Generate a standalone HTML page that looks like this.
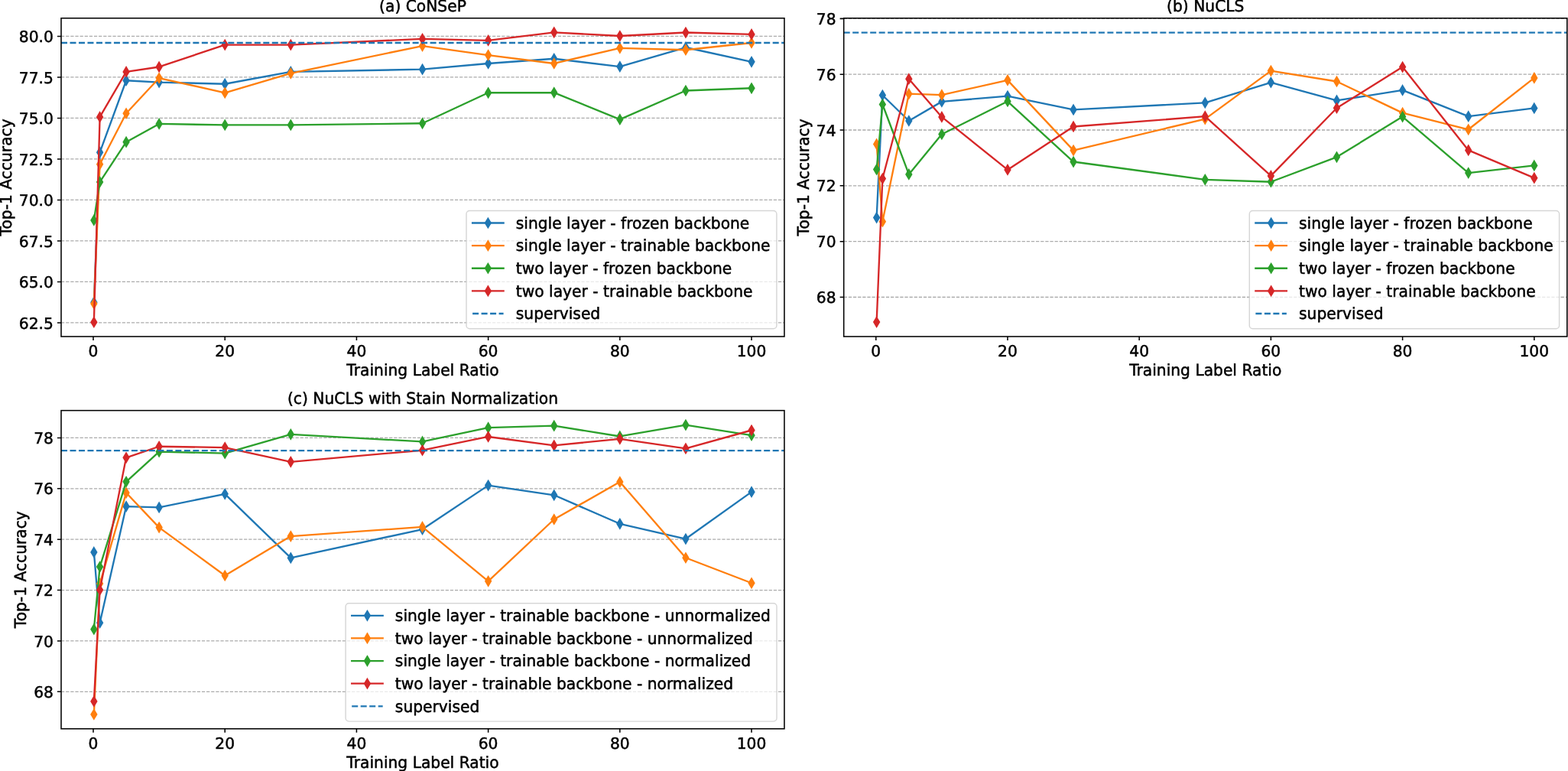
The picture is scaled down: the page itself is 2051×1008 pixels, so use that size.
<!DOCTYPE html>
<html><head><meta charset="utf-8"><title>Top-1 Accuracy vs Training Label Ratio</title>
<style>html,body{margin:0;padding:0;background:#fff;width:2051px;height:1008px;overflow:hidden}svg{display:block}</style>
</head><body>
<svg width="2051" height="1008" viewBox="0 0 2051 1008">
<rect width="2051" height="1008" fill="#ffffff"/>
<style>text{stroke:#000;stroke-width:0.5px;text-rendering:geometricPrecision}</style>
<g font-family="'DejaVu Sans', 'Liberation Sans', sans-serif" font-size="20.24px" fill="#000">
<clipPath id="clipa"><rect x="80" y="23.75" width="945.95" height="416.25"/></clipPath>
<path d="M80 421.91H1025.95 M80 368.41H1025.95 M80 314.92H1025.95 M80 261.43H1025.95 M80 207.94H1025.95 M80 154.44H1025.95 M80 100.95H1025.95 M80 47.46H1025.95" stroke="#ababab" stroke-width="1.3" stroke-dasharray="4.28 1.85" fill="none" clip-path="url(#clipa)"/>
<g clip-path="url(#clipa)"><path d="M122.86 395.16 130.61 199.16 165.05 105.23 208.1 107.59 294.21 109.73 380.31 93.89 552.51 90.68 638.62 82.98 724.72 76.77 810.82 87.04 896.93 62.01 983.03 80.84" stroke="#1f77b4" stroke-width="2.34" fill="none" stroke-linejoin="round" stroke-linecap="butt"/>
<path d="M122.86 388.72L126.73 395.16L122.86 401.6L119 395.16Z" fill="#1f77b4" stroke="#1f77b4" stroke-width="1.45" stroke-linejoin="miter" stroke-miterlimit="10"/>
<path d="M130.61 192.72L134.47 199.16L130.61 205.61L126.75 199.16Z" fill="#1f77b4" stroke="#1f77b4" stroke-width="1.45" stroke-linejoin="miter" stroke-miterlimit="10"/>
<path d="M165.05 98.79L168.92 105.23L165.05 111.67L161.19 105.23Z" fill="#1f77b4" stroke="#1f77b4" stroke-width="1.45" stroke-linejoin="miter" stroke-miterlimit="10"/>
<path d="M208.1 101.14L211.97 107.59L208.1 114.03L204.24 107.59Z" fill="#1f77b4" stroke="#1f77b4" stroke-width="1.45" stroke-linejoin="miter" stroke-miterlimit="10"/>
<path d="M294.21 103.28L298.07 109.73L294.21 116.17L290.34 109.73Z" fill="#1f77b4" stroke="#1f77b4" stroke-width="1.45" stroke-linejoin="miter" stroke-miterlimit="10"/>
<path d="M380.31 87.45L384.17 93.89L380.31 100.33L376.44 93.89Z" fill="#1f77b4" stroke="#1f77b4" stroke-width="1.45" stroke-linejoin="miter" stroke-miterlimit="10"/>
<path d="M552.51 84.24L556.38 90.68L552.51 97.12L548.65 90.68Z" fill="#1f77b4" stroke="#1f77b4" stroke-width="1.45" stroke-linejoin="miter" stroke-miterlimit="10"/>
<path d="M638.62 76.54L642.48 82.98L638.62 89.42L634.75 82.98Z" fill="#1f77b4" stroke="#1f77b4" stroke-width="1.45" stroke-linejoin="miter" stroke-miterlimit="10"/>
<path d="M724.72 70.33L728.59 76.77L724.72 83.21L720.86 76.77Z" fill="#1f77b4" stroke="#1f77b4" stroke-width="1.45" stroke-linejoin="miter" stroke-miterlimit="10"/>
<path d="M810.82 80.6L814.69 87.04L810.82 93.49L806.96 87.04Z" fill="#1f77b4" stroke="#1f77b4" stroke-width="1.45" stroke-linejoin="miter" stroke-miterlimit="10"/>
<path d="M896.93 55.57L900.79 62.01L896.93 68.45L893.06 62.01Z" fill="#1f77b4" stroke="#1f77b4" stroke-width="1.45" stroke-linejoin="miter" stroke-miterlimit="10"/>
<path d="M983.03 74.4L986.89 80.84L983.03 87.28L979.17 80.84Z" fill="#1f77b4" stroke="#1f77b4" stroke-width="1.45" stroke-linejoin="miter" stroke-miterlimit="10"/>
</g>
<g clip-path="url(#clipa)"><path d="M122.86 397.09 130.61 214.78 165.05 148.24 208.1 102.02 294.21 121.28 380.31 95.82 552.51 60.08 638.62 72.07 724.72 82.98 810.82 62.87 896.93 65.22 983.03 56.02" stroke="#ff7f0e" stroke-width="2.34" fill="none" stroke-linejoin="round" stroke-linecap="butt"/>
<path d="M122.86 390.65L126.73 397.09L122.86 403.53L119 397.09Z" fill="#ff7f0e" stroke="#ff7f0e" stroke-width="1.45" stroke-linejoin="miter" stroke-miterlimit="10"/>
<path d="M130.61 208.34L134.47 214.78L130.61 221.23L126.75 214.78Z" fill="#ff7f0e" stroke="#ff7f0e" stroke-width="1.45" stroke-linejoin="miter" stroke-miterlimit="10"/>
<path d="M165.05 141.8L168.92 148.24L165.05 154.68L161.19 148.24Z" fill="#ff7f0e" stroke="#ff7f0e" stroke-width="1.45" stroke-linejoin="miter" stroke-miterlimit="10"/>
<path d="M208.1 95.58L211.97 102.02L208.1 108.46L204.24 102.02Z" fill="#ff7f0e" stroke="#ff7f0e" stroke-width="1.45" stroke-linejoin="miter" stroke-miterlimit="10"/>
<path d="M294.21 114.84L298.07 121.28L294.21 127.72L290.34 121.28Z" fill="#ff7f0e" stroke="#ff7f0e" stroke-width="1.45" stroke-linejoin="miter" stroke-miterlimit="10"/>
<path d="M380.31 89.38L384.17 95.82L380.31 102.26L376.44 95.82Z" fill="#ff7f0e" stroke="#ff7f0e" stroke-width="1.45" stroke-linejoin="miter" stroke-miterlimit="10"/>
<path d="M552.51 53.64L556.38 60.08L552.51 66.53L548.65 60.08Z" fill="#ff7f0e" stroke="#ff7f0e" stroke-width="1.45" stroke-linejoin="miter" stroke-miterlimit="10"/>
<path d="M638.62 65.63L642.48 72.07L638.62 78.51L634.75 72.07Z" fill="#ff7f0e" stroke="#ff7f0e" stroke-width="1.45" stroke-linejoin="miter" stroke-miterlimit="10"/>
<path d="M724.72 76.54L728.59 82.98L724.72 89.42L720.86 82.98Z" fill="#ff7f0e" stroke="#ff7f0e" stroke-width="1.45" stroke-linejoin="miter" stroke-miterlimit="10"/>
<path d="M810.82 56.42L814.69 62.87L810.82 69.31L806.96 62.87Z" fill="#ff7f0e" stroke="#ff7f0e" stroke-width="1.45" stroke-linejoin="miter" stroke-miterlimit="10"/>
<path d="M896.93 58.78L900.79 65.22L896.93 71.66L893.06 65.22Z" fill="#ff7f0e" stroke="#ff7f0e" stroke-width="1.45" stroke-linejoin="miter" stroke-miterlimit="10"/>
<path d="M983.03 49.58L986.89 56.02L983.03 62.46L979.17 56.02Z" fill="#ff7f0e" stroke="#ff7f0e" stroke-width="1.45" stroke-linejoin="miter" stroke-miterlimit="10"/>
</g>
<g clip-path="url(#clipa)"><path d="M122.86 287.96 130.61 237.89 165.05 185.68 208.1 161.93 294.21 163.43 380.31 163.43 552.51 161.29 638.62 121.28 724.72 121.07 810.82 156.16 896.93 118.5 983.03 115.29" stroke="#2ca02c" stroke-width="2.34" fill="none" stroke-linejoin="round" stroke-linecap="butt"/>
<path d="M122.86 281.52L126.73 287.96L122.86 294.4L119 287.96Z" fill="#2ca02c" stroke="#2ca02c" stroke-width="1.45" stroke-linejoin="miter" stroke-miterlimit="10"/>
<path d="M130.61 231.45L134.47 237.89L130.61 244.33L126.75 237.89Z" fill="#2ca02c" stroke="#2ca02c" stroke-width="1.45" stroke-linejoin="miter" stroke-miterlimit="10"/>
<path d="M165.05 179.24L168.92 185.68L165.05 192.13L161.19 185.68Z" fill="#2ca02c" stroke="#2ca02c" stroke-width="1.45" stroke-linejoin="miter" stroke-miterlimit="10"/>
<path d="M208.1 155.49L211.97 161.93L208.1 168.38L204.24 161.93Z" fill="#2ca02c" stroke="#2ca02c" stroke-width="1.45" stroke-linejoin="miter" stroke-miterlimit="10"/>
<path d="M294.21 156.99L298.07 163.43L294.21 169.87L290.34 163.43Z" fill="#2ca02c" stroke="#2ca02c" stroke-width="1.45" stroke-linejoin="miter" stroke-miterlimit="10"/>
<path d="M380.31 156.99L384.17 163.43L380.31 169.87L376.44 163.43Z" fill="#2ca02c" stroke="#2ca02c" stroke-width="1.45" stroke-linejoin="miter" stroke-miterlimit="10"/>
<path d="M552.51 154.85L556.38 161.29L552.51 167.73L548.65 161.29Z" fill="#2ca02c" stroke="#2ca02c" stroke-width="1.45" stroke-linejoin="miter" stroke-miterlimit="10"/>
<path d="M638.62 114.84L642.48 121.28L638.62 127.72L634.75 121.28Z" fill="#2ca02c" stroke="#2ca02c" stroke-width="1.45" stroke-linejoin="miter" stroke-miterlimit="10"/>
<path d="M724.72 114.62L728.59 121.07L724.72 127.51L720.86 121.07Z" fill="#2ca02c" stroke="#2ca02c" stroke-width="1.45" stroke-linejoin="miter" stroke-miterlimit="10"/>
<path d="M810.82 149.72L814.69 156.16L810.82 162.6L806.96 156.16Z" fill="#2ca02c" stroke="#2ca02c" stroke-width="1.45" stroke-linejoin="miter" stroke-miterlimit="10"/>
<path d="M896.93 112.06L900.79 118.5L896.93 124.94L893.06 118.5Z" fill="#2ca02c" stroke="#2ca02c" stroke-width="1.45" stroke-linejoin="miter" stroke-miterlimit="10"/>
<path d="M983.03 108.85L986.89 115.29L983.03 121.73L979.17 115.29Z" fill="#2ca02c" stroke="#2ca02c" stroke-width="1.45" stroke-linejoin="miter" stroke-miterlimit="10"/>
</g>
<g clip-path="url(#clipa)"><path d="M122.86 421.27 130.61 152.95 165.05 93.89 208.1 87.47 294.21 58.59 380.31 58.59 552.51 50.88 638.62 52.81 724.72 42.32 810.82 47.03 896.93 42.54 983.03 44.89" stroke="#d62728" stroke-width="2.34" fill="none" stroke-linejoin="round" stroke-linecap="butt"/>
<path d="M122.86 414.82L126.73 421.27L122.86 427.71L119 421.27Z" fill="#d62728" stroke="#d62728" stroke-width="1.45" stroke-linejoin="miter" stroke-miterlimit="10"/>
<path d="M130.61 146.51L134.47 152.95L130.61 159.39L126.75 152.95Z" fill="#d62728" stroke="#d62728" stroke-width="1.45" stroke-linejoin="miter" stroke-miterlimit="10"/>
<path d="M165.05 87.45L168.92 93.89L165.05 100.33L161.19 93.89Z" fill="#d62728" stroke="#d62728" stroke-width="1.45" stroke-linejoin="miter" stroke-miterlimit="10"/>
<path d="M208.1 81.03L211.97 87.47L208.1 93.91L204.24 87.47Z" fill="#d62728" stroke="#d62728" stroke-width="1.45" stroke-linejoin="miter" stroke-miterlimit="10"/>
<path d="M294.21 52.15L298.07 58.59L294.21 65.03L290.34 58.59Z" fill="#d62728" stroke="#d62728" stroke-width="1.45" stroke-linejoin="miter" stroke-miterlimit="10"/>
<path d="M380.31 52.15L384.17 58.59L380.31 65.03L376.44 58.59Z" fill="#d62728" stroke="#d62728" stroke-width="1.45" stroke-linejoin="miter" stroke-miterlimit="10"/>
<path d="M552.51 44.44L556.38 50.88L552.51 57.32L548.65 50.88Z" fill="#d62728" stroke="#d62728" stroke-width="1.45" stroke-linejoin="miter" stroke-miterlimit="10"/>
<path d="M638.62 46.37L642.48 52.81L638.62 59.25L634.75 52.81Z" fill="#d62728" stroke="#d62728" stroke-width="1.45" stroke-linejoin="miter" stroke-miterlimit="10"/>
<path d="M724.72 35.88L728.59 42.32L724.72 48.77L720.86 42.32Z" fill="#d62728" stroke="#d62728" stroke-width="1.45" stroke-linejoin="miter" stroke-miterlimit="10"/>
<path d="M810.82 40.59L814.69 47.03L810.82 53.47L806.96 47.03Z" fill="#d62728" stroke="#d62728" stroke-width="1.45" stroke-linejoin="miter" stroke-miterlimit="10"/>
<path d="M896.93 36.1L900.79 42.54L896.93 48.98L893.06 42.54Z" fill="#d62728" stroke="#d62728" stroke-width="1.45" stroke-linejoin="miter" stroke-miterlimit="10"/>
<path d="M983.03 38.45L986.89 44.89L983.03 51.33L979.17 44.89Z" fill="#d62728" stroke="#d62728" stroke-width="1.45" stroke-linejoin="miter" stroke-miterlimit="10"/>
</g>
<path d="M80 56.02H1025.95" stroke="#1f77b4" stroke-width="2.34" stroke-dasharray="8.02 3.47" fill="none"/>
<rect x="610" y="275.4" width="405.9" height="154.4" rx="4.3" ry="4.3" fill="#ffffff" fill-opacity="0.74" stroke="#cccccc" stroke-opacity="0.8" stroke-width="1.45"/>
<path d="M618.1 291.5H658.58" stroke="#1f77b4" stroke-width="2.34" stroke-linecap="square"/>
<path d="M638.34 285.06L642.2 291.5L638.34 297.94L634.47 291.5Z" fill="#1f77b4" stroke="#1f77b4" stroke-width="1.45" stroke-linejoin="miter" stroke-miterlimit="10"/>
<text transform="translate(674.77 298.7) scale(1 1.03)">single layer - frozen backbone</text>
<path d="M618.1 321.13H658.58" stroke="#ff7f0e" stroke-width="2.34" stroke-linecap="square"/>
<path d="M638.34 314.69L642.2 321.13L638.34 327.57L634.47 321.13Z" fill="#ff7f0e" stroke="#ff7f0e" stroke-width="1.45" stroke-linejoin="miter" stroke-miterlimit="10"/>
<text transform="translate(674.77 328.33) scale(1 1.03)">single layer - trainable backbone</text>
<path d="M618.1 350.76H658.58" stroke="#2ca02c" stroke-width="2.34" stroke-linecap="square"/>
<path d="M638.34 344.32L642.2 350.76L638.34 357.2L634.47 350.76Z" fill="#2ca02c" stroke="#2ca02c" stroke-width="1.45" stroke-linejoin="miter" stroke-miterlimit="10"/>
<text transform="translate(674.77 357.96) scale(1 1.03)">two layer - frozen backbone</text>
<path d="M618.1 380.39H658.58" stroke="#d62728" stroke-width="2.34" stroke-linecap="square"/>
<path d="M638.34 373.95L642.2 380.39L638.34 386.83L634.47 380.39Z" fill="#d62728" stroke="#d62728" stroke-width="1.45" stroke-linejoin="miter" stroke-miterlimit="10"/>
<text transform="translate(674.77 387.59) scale(1 1.03)">two layer - trainable backbone</text>
<path d="M618.1 410.02H658.58" stroke="#1f77b4" stroke-width="2.34" stroke-dasharray="8.02 3.47"/>
<text transform="translate(674.77 417.22) scale(1 1.03)">supervised</text>
<rect x="80" y="23.75" width="945.95" height="416.25" fill="none" stroke="#000" stroke-width="1.55" stroke-linejoin="miter"/>
<path d="M122 440V445.06 M294.21 440V445.06 M466.41 440V445.06 M638.62 440V445.06 M810.82 440V445.06 M983.03 440V445.06 M80 421.91H74.94 M80 368.41H74.94 M80 314.92H74.94 M80 261.43H74.94 M80 207.94H74.94 M80 154.44H74.94 M80 100.95H74.94 M80 47.46H74.94" stroke="#000" stroke-width="1.55"/>
<text class="t" x="122" y="465.9" text-anchor="middle">0</text>
<text class="t" x="294.21" y="465.9" text-anchor="middle">20</text>
<text class="t" x="466.41" y="465.9" text-anchor="middle">40</text>
<text class="t" x="638.62" y="465.9" text-anchor="middle">60</text>
<text class="t" x="810.82" y="465.9" text-anchor="middle">80</text>
<text class="t" x="983.03" y="465.9" text-anchor="middle">100</text>
<text class="t" x="69.88" y="429.56" text-anchor="end">62.5</text>
<text class="t" x="69.88" y="376.06" text-anchor="end">65.0</text>
<text class="t" x="69.88" y="322.57" text-anchor="end">67.5</text>
<text class="t" x="69.88" y="269.08" text-anchor="end">70.0</text>
<text class="t" x="69.88" y="215.59" text-anchor="end">72.5</text>
<text class="t" x="69.88" y="162.09" text-anchor="end">75.0</text>
<text class="t" x="69.88" y="108.6" text-anchor="end">77.5</text>
<text class="t" x="69.88" y="55.11" text-anchor="end">80.0</text>
<text transform="translate(552.98 491) scale(1 1.03)" text-anchor="middle">Training Label Ratio</text>
<text transform="translate(15 231.88) rotate(-90) scale(1 1.03)" text-anchor="middle">Top-1 Accuracy</text>
<text transform="translate(552.98 15.07) scale(1 1.03)" text-anchor="middle">(a) CoNSeP</text>
<clipPath id="clipb"><rect x="1103.7" y="23.75" width="946.1" height="416.25"/></clipPath>
<path d="M1103.7 388.48H2049.8 M1103.7 315.66H2049.8 M1103.7 242.84H2049.8 M1103.7 170.02H2049.8 M1103.7 97.2H2049.8 M1103.7 24.38H2049.8" stroke="#ababab" stroke-width="1.3" stroke-dasharray="4.28 1.85" fill="none" clip-path="url(#clipb)"/>
<g clip-path="url(#clipb)"><path d="M1146.63 284.53 1154.38 124.51 1188.82 158 1231.87 132.88 1317.98 125.6 1404.08 143.44 1576.28 134.34 1662.39 107.76 1748.49 131.43 1834.59 117.95 1920.7 152.18 2006.8 141.44" stroke="#1f77b4" stroke-width="2.34" fill="none" stroke-linejoin="round" stroke-linecap="butt"/>
<path d="M1146.63 278.09L1150.5 284.53L1146.63 290.97L1142.77 284.53Z" fill="#1f77b4" stroke="#1f77b4" stroke-width="1.45" stroke-linejoin="miter" stroke-miterlimit="10"/>
<path d="M1154.38 118.07L1158.24 124.51L1154.38 130.95L1150.52 124.51Z" fill="#1f77b4" stroke="#1f77b4" stroke-width="1.45" stroke-linejoin="miter" stroke-miterlimit="10"/>
<path d="M1188.82 151.56L1192.69 158L1188.82 164.45L1184.96 158Z" fill="#1f77b4" stroke="#1f77b4" stroke-width="1.45" stroke-linejoin="miter" stroke-miterlimit="10"/>
<path d="M1231.87 126.44L1235.74 132.88L1231.87 139.32L1228.01 132.88Z" fill="#1f77b4" stroke="#1f77b4" stroke-width="1.45" stroke-linejoin="miter" stroke-miterlimit="10"/>
<path d="M1317.98 119.16L1321.84 125.6L1317.98 132.04L1314.11 125.6Z" fill="#1f77b4" stroke="#1f77b4" stroke-width="1.45" stroke-linejoin="miter" stroke-miterlimit="10"/>
<path d="M1404.08 137L1407.94 143.44L1404.08 149.88L1400.21 143.44Z" fill="#1f77b4" stroke="#1f77b4" stroke-width="1.45" stroke-linejoin="miter" stroke-miterlimit="10"/>
<path d="M1576.28 127.9L1580.15 134.34L1576.28 140.78L1572.42 134.34Z" fill="#1f77b4" stroke="#1f77b4" stroke-width="1.45" stroke-linejoin="miter" stroke-miterlimit="10"/>
<path d="M1662.39 101.32L1666.25 107.76L1662.39 114.2L1658.52 107.76Z" fill="#1f77b4" stroke="#1f77b4" stroke-width="1.45" stroke-linejoin="miter" stroke-miterlimit="10"/>
<path d="M1748.49 124.98L1752.36 131.43L1748.49 137.87L1744.63 131.43Z" fill="#1f77b4" stroke="#1f77b4" stroke-width="1.45" stroke-linejoin="miter" stroke-miterlimit="10"/>
<path d="M1834.59 111.51L1838.46 117.95L1834.59 124.39L1830.73 117.95Z" fill="#1f77b4" stroke="#1f77b4" stroke-width="1.45" stroke-linejoin="miter" stroke-miterlimit="10"/>
<path d="M1920.7 145.74L1924.56 152.18L1920.7 158.62L1916.83 152.18Z" fill="#1f77b4" stroke="#1f77b4" stroke-width="1.45" stroke-linejoin="miter" stroke-miterlimit="10"/>
<path d="M2006.8 135L2010.66 141.44L2006.8 147.88L2002.94 141.44Z" fill="#1f77b4" stroke="#1f77b4" stroke-width="1.45" stroke-linejoin="miter" stroke-miterlimit="10"/>
</g>
<g clip-path="url(#clipb)"><path d="M1146.63 188.41 1154.38 289.63 1188.82 122.69 1231.87 124.14 1317.98 104.85 1404.08 196.6 1576.28 155.64 1662.39 92.58 1748.49 106.48 1834.59 147.63 1920.7 169.29 2006.8 101.93" stroke="#ff7f0e" stroke-width="2.34" fill="none" stroke-linejoin="round" stroke-linecap="butt"/>
<path d="M1146.63 181.97L1150.5 188.41L1146.63 194.85L1142.77 188.41Z" fill="#ff7f0e" stroke="#ff7f0e" stroke-width="1.45" stroke-linejoin="miter" stroke-miterlimit="10"/>
<path d="M1154.38 283.19L1158.24 289.63L1154.38 296.07L1150.52 289.63Z" fill="#ff7f0e" stroke="#ff7f0e" stroke-width="1.45" stroke-linejoin="miter" stroke-miterlimit="10"/>
<path d="M1188.82 116.25L1192.69 122.69L1188.82 129.13L1184.96 122.69Z" fill="#ff7f0e" stroke="#ff7f0e" stroke-width="1.45" stroke-linejoin="miter" stroke-miterlimit="10"/>
<path d="M1231.87 117.7L1235.74 124.14L1231.87 130.58L1228.01 124.14Z" fill="#ff7f0e" stroke="#ff7f0e" stroke-width="1.45" stroke-linejoin="miter" stroke-miterlimit="10"/>
<path d="M1317.98 98.41L1321.84 104.85L1317.98 111.29L1314.11 104.85Z" fill="#ff7f0e" stroke="#ff7f0e" stroke-width="1.45" stroke-linejoin="miter" stroke-miterlimit="10"/>
<path d="M1404.08 190.16L1407.94 196.6L1404.08 203.04L1400.21 196.6Z" fill="#ff7f0e" stroke="#ff7f0e" stroke-width="1.45" stroke-linejoin="miter" stroke-miterlimit="10"/>
<path d="M1576.28 149.2L1580.15 155.64L1576.28 162.08L1572.42 155.64Z" fill="#ff7f0e" stroke="#ff7f0e" stroke-width="1.45" stroke-linejoin="miter" stroke-miterlimit="10"/>
<path d="M1662.39 86.13L1666.25 92.58L1662.39 99.02L1658.52 92.58Z" fill="#ff7f0e" stroke="#ff7f0e" stroke-width="1.45" stroke-linejoin="miter" stroke-miterlimit="10"/>
<path d="M1748.49 100.04L1752.36 106.48L1748.49 112.93L1744.63 106.48Z" fill="#ff7f0e" stroke="#ff7f0e" stroke-width="1.45" stroke-linejoin="miter" stroke-miterlimit="10"/>
<path d="M1834.59 141.19L1838.46 147.63L1834.59 154.07L1830.73 147.63Z" fill="#ff7f0e" stroke="#ff7f0e" stroke-width="1.45" stroke-linejoin="miter" stroke-miterlimit="10"/>
<path d="M1920.7 162.85L1924.56 169.29L1920.7 175.73L1916.83 169.29Z" fill="#ff7f0e" stroke="#ff7f0e" stroke-width="1.45" stroke-linejoin="miter" stroke-miterlimit="10"/>
<path d="M2006.8 95.49L2010.66 101.93L2006.8 108.37L2002.94 101.93Z" fill="#ff7f0e" stroke="#ff7f0e" stroke-width="1.45" stroke-linejoin="miter" stroke-miterlimit="10"/>
</g>
<g clip-path="url(#clipb)"><path d="M1146.63 221.54 1154.38 136.52 1188.82 227.91 1231.87 175.48 1317.98 132.52 1404.08 211.53 1576.28 234.83 1662.39 237.74 1748.49 205.34 1834.59 152.54 1920.7 226.09 2006.8 216.44" stroke="#2ca02c" stroke-width="2.34" fill="none" stroke-linejoin="round" stroke-linecap="butt"/>
<path d="M1146.63 215.1L1150.5 221.54L1146.63 227.98L1142.77 221.54Z" fill="#2ca02c" stroke="#2ca02c" stroke-width="1.45" stroke-linejoin="miter" stroke-miterlimit="10"/>
<path d="M1154.38 130.08L1158.24 136.52L1154.38 142.96L1150.52 136.52Z" fill="#2ca02c" stroke="#2ca02c" stroke-width="1.45" stroke-linejoin="miter" stroke-miterlimit="10"/>
<path d="M1188.82 221.47L1192.69 227.91L1188.82 234.35L1184.96 227.91Z" fill="#2ca02c" stroke="#2ca02c" stroke-width="1.45" stroke-linejoin="miter" stroke-miterlimit="10"/>
<path d="M1231.87 169.04L1235.74 175.48L1231.87 181.92L1228.01 175.48Z" fill="#2ca02c" stroke="#2ca02c" stroke-width="1.45" stroke-linejoin="miter" stroke-miterlimit="10"/>
<path d="M1317.98 126.08L1321.84 132.52L1317.98 138.96L1314.11 132.52Z" fill="#2ca02c" stroke="#2ca02c" stroke-width="1.45" stroke-linejoin="miter" stroke-miterlimit="10"/>
<path d="M1404.08 205.09L1407.94 211.53L1404.08 217.97L1400.21 211.53Z" fill="#2ca02c" stroke="#2ca02c" stroke-width="1.45" stroke-linejoin="miter" stroke-miterlimit="10"/>
<path d="M1576.28 228.39L1580.15 234.83L1576.28 241.27L1572.42 234.83Z" fill="#2ca02c" stroke="#2ca02c" stroke-width="1.45" stroke-linejoin="miter" stroke-miterlimit="10"/>
<path d="M1662.39 231.3L1666.25 237.74L1662.39 244.18L1658.52 237.74Z" fill="#2ca02c" stroke="#2ca02c" stroke-width="1.45" stroke-linejoin="miter" stroke-miterlimit="10"/>
<path d="M1748.49 198.9L1752.36 205.34L1748.49 211.78L1744.63 205.34Z" fill="#2ca02c" stroke="#2ca02c" stroke-width="1.45" stroke-linejoin="miter" stroke-miterlimit="10"/>
<path d="M1834.59 146.1L1838.46 152.54L1834.59 158.98L1830.73 152.54Z" fill="#2ca02c" stroke="#2ca02c" stroke-width="1.45" stroke-linejoin="miter" stroke-miterlimit="10"/>
<path d="M1920.7 219.65L1924.56 226.09L1920.7 232.53L1916.83 226.09Z" fill="#2ca02c" stroke="#2ca02c" stroke-width="1.45" stroke-linejoin="miter" stroke-miterlimit="10"/>
<path d="M2006.8 210L2010.66 216.44L2006.8 222.88L2002.94 216.44Z" fill="#2ca02c" stroke="#2ca02c" stroke-width="1.45" stroke-linejoin="miter" stroke-miterlimit="10"/>
</g>
<g clip-path="url(#clipb)"><path d="M1146.63 421.07 1154.38 233.56 1188.82 103.21 1231.87 152.91 1317.98 221.9 1404.08 165.47 1576.28 152.18 1662.39 229.91 1748.49 141.26 1834.59 87.55 1920.7 196.42 2006.8 232.65" stroke="#d62728" stroke-width="2.34" fill="none" stroke-linejoin="round" stroke-linecap="butt"/>
<path d="M1146.63 414.63L1150.5 421.07L1146.63 427.51L1142.77 421.07Z" fill="#d62728" stroke="#d62728" stroke-width="1.45" stroke-linejoin="miter" stroke-miterlimit="10"/>
<path d="M1154.38 227.11L1158.24 233.56L1154.38 240L1150.52 233.56Z" fill="#d62728" stroke="#d62728" stroke-width="1.45" stroke-linejoin="miter" stroke-miterlimit="10"/>
<path d="M1188.82 96.77L1192.69 103.21L1188.82 109.65L1184.96 103.21Z" fill="#d62728" stroke="#d62728" stroke-width="1.45" stroke-linejoin="miter" stroke-miterlimit="10"/>
<path d="M1231.87 146.47L1235.74 152.91L1231.87 159.35L1228.01 152.91Z" fill="#d62728" stroke="#d62728" stroke-width="1.45" stroke-linejoin="miter" stroke-miterlimit="10"/>
<path d="M1317.98 215.46L1321.84 221.9L1317.98 228.35L1314.11 221.9Z" fill="#d62728" stroke="#d62728" stroke-width="1.45" stroke-linejoin="miter" stroke-miterlimit="10"/>
<path d="M1404.08 159.03L1407.94 165.47L1404.08 171.91L1400.21 165.47Z" fill="#d62728" stroke="#d62728" stroke-width="1.45" stroke-linejoin="miter" stroke-miterlimit="10"/>
<path d="M1576.28 145.74L1580.15 152.18L1576.28 158.62L1572.42 152.18Z" fill="#d62728" stroke="#d62728" stroke-width="1.45" stroke-linejoin="miter" stroke-miterlimit="10"/>
<path d="M1662.39 223.47L1666.25 229.91L1662.39 236.36L1658.52 229.91Z" fill="#d62728" stroke="#d62728" stroke-width="1.45" stroke-linejoin="miter" stroke-miterlimit="10"/>
<path d="M1748.49 134.82L1752.36 141.26L1748.49 147.7L1744.63 141.26Z" fill="#d62728" stroke="#d62728" stroke-width="1.45" stroke-linejoin="miter" stroke-miterlimit="10"/>
<path d="M1834.59 81.11L1838.46 87.55L1834.59 93.99L1830.73 87.55Z" fill="#d62728" stroke="#d62728" stroke-width="1.45" stroke-linejoin="miter" stroke-miterlimit="10"/>
<path d="M1920.7 189.98L1924.56 196.42L1920.7 202.86L1916.83 196.42Z" fill="#d62728" stroke="#d62728" stroke-width="1.45" stroke-linejoin="miter" stroke-miterlimit="10"/>
<path d="M2006.8 226.2L2010.66 232.65L2006.8 239.09L2002.94 232.65Z" fill="#d62728" stroke="#d62728" stroke-width="1.45" stroke-linejoin="miter" stroke-miterlimit="10"/>
</g>
<path d="M1103.7 42.59H2049.8" stroke="#1f77b4" stroke-width="2.34" stroke-dasharray="8.02 3.47" fill="none"/>
<rect x="1634.3" y="275.4" width="405.3" height="154.4" rx="4.3" ry="4.3" fill="#ffffff" fill-opacity="0.74" stroke="#cccccc" stroke-opacity="0.8" stroke-width="1.45"/>
<path d="M1642.4 291.5H1682.88" stroke="#1f77b4" stroke-width="2.34" stroke-linecap="square"/>
<path d="M1662.64 285.06L1666.5 291.5L1662.64 297.94L1658.77 291.5Z" fill="#1f77b4" stroke="#1f77b4" stroke-width="1.45" stroke-linejoin="miter" stroke-miterlimit="10"/>
<text transform="translate(1699.07 298.7) scale(1 1.03)">single layer - frozen backbone</text>
<path d="M1642.4 321.13H1682.88" stroke="#ff7f0e" stroke-width="2.34" stroke-linecap="square"/>
<path d="M1662.64 314.69L1666.5 321.13L1662.64 327.57L1658.77 321.13Z" fill="#ff7f0e" stroke="#ff7f0e" stroke-width="1.45" stroke-linejoin="miter" stroke-miterlimit="10"/>
<text transform="translate(1699.07 328.33) scale(1 1.03)">single layer - trainable backbone</text>
<path d="M1642.4 350.76H1682.88" stroke="#2ca02c" stroke-width="2.34" stroke-linecap="square"/>
<path d="M1662.64 344.32L1666.5 350.76L1662.64 357.2L1658.77 350.76Z" fill="#2ca02c" stroke="#2ca02c" stroke-width="1.45" stroke-linejoin="miter" stroke-miterlimit="10"/>
<text transform="translate(1699.07 357.96) scale(1 1.03)">two layer - frozen backbone</text>
<path d="M1642.4 380.39H1682.88" stroke="#d62728" stroke-width="2.34" stroke-linecap="square"/>
<path d="M1662.64 373.95L1666.5 380.39L1662.64 386.83L1658.77 380.39Z" fill="#d62728" stroke="#d62728" stroke-width="1.45" stroke-linejoin="miter" stroke-miterlimit="10"/>
<text transform="translate(1699.07 387.59) scale(1 1.03)">two layer - trainable backbone</text>
<path d="M1642.4 410.02H1682.88" stroke="#1f77b4" stroke-width="2.34" stroke-dasharray="8.02 3.47"/>
<text transform="translate(1699.07 417.22) scale(1 1.03)">supervised</text>
<rect x="1103.7" y="23.75" width="946.1" height="416.25" fill="none" stroke="#000" stroke-width="1.55" stroke-linejoin="miter"/>
<path d="M1145.77 440V445.06 M1317.98 440V445.06 M1490.18 440V445.06 M1662.39 440V445.06 M1834.59 440V445.06 M2006.8 440V445.06 M1103.7 388.48H1098.64 M1103.7 315.66H1098.64 M1103.7 242.84H1098.64 M1103.7 170.02H1098.64 M1103.7 97.2H1098.64 M1103.7 24.38H1098.64" stroke="#000" stroke-width="1.55"/>
<text class="t" x="1145.77" y="465.9" text-anchor="middle">0</text>
<text class="t" x="1317.98" y="465.9" text-anchor="middle">20</text>
<text class="t" x="1490.18" y="465.9" text-anchor="middle">40</text>
<text class="t" x="1662.39" y="465.9" text-anchor="middle">60</text>
<text class="t" x="1834.59" y="465.9" text-anchor="middle">80</text>
<text class="t" x="2006.8" y="465.9" text-anchor="middle">100</text>
<text class="t" x="1093.58" y="396.13" text-anchor="end">68</text>
<text class="t" x="1093.58" y="323.31" text-anchor="end">70</text>
<text class="t" x="1093.58" y="250.49" text-anchor="end">72</text>
<text class="t" x="1093.58" y="177.67" text-anchor="end">74</text>
<text class="t" x="1093.58" y="104.85" text-anchor="end">76</text>
<text class="t" x="1093.58" y="32.03" text-anchor="end">78</text>
<text transform="translate(1576.75 491) scale(1 1.03)" text-anchor="middle">Training Label Ratio</text>
<text transform="translate(1057.7 231.88) rotate(-90) scale(1 1.03)" text-anchor="middle">Top-1 Accuracy</text>
<text transform="translate(1576.75 15.07) scale(1 1.03)" text-anchor="middle">(b) NuCLS</text>
<clipPath id="clipc"><rect x="80" y="536.67" width="945.95" height="416.13"/></clipPath>
<path d="M80 904.31H1025.95 M80 837.94H1025.95 M80 771.57H1025.95 M80 705.2H1025.95 M80 638.83H1025.95 M80 572.46H1025.95" stroke="#ababab" stroke-width="1.3" stroke-dasharray="4.28 1.85" fill="none" clip-path="url(#clipc)"/>
<g clip-path="url(#clipc)"><path d="M122.86 721.96 130.61 814.21 165.05 662.06 208.1 663.39 294.21 645.8 380.31 729.43 552.51 692.09 638.62 634.62 724.72 647.29 810.82 684.79 896.93 704.54 983.03 643.14" stroke="#1f77b4" stroke-width="2.34" fill="none" stroke-linejoin="round" stroke-linecap="butt"/>
<path d="M122.86 715.52L126.73 721.96L122.86 728.4L119 721.96Z" fill="#1f77b4" stroke="#1f77b4" stroke-width="1.45" stroke-linejoin="miter" stroke-miterlimit="10"/>
<path d="M130.61 807.77L134.47 814.21L130.61 820.65L126.75 814.21Z" fill="#1f77b4" stroke="#1f77b4" stroke-width="1.45" stroke-linejoin="miter" stroke-miterlimit="10"/>
<path d="M165.05 655.62L168.92 662.06L165.05 668.5L161.19 662.06Z" fill="#1f77b4" stroke="#1f77b4" stroke-width="1.45" stroke-linejoin="miter" stroke-miterlimit="10"/>
<path d="M208.1 656.95L211.97 663.39L208.1 669.83L204.24 663.39Z" fill="#1f77b4" stroke="#1f77b4" stroke-width="1.45" stroke-linejoin="miter" stroke-miterlimit="10"/>
<path d="M294.21 639.36L298.07 645.8L294.21 652.24L290.34 645.8Z" fill="#1f77b4" stroke="#1f77b4" stroke-width="1.45" stroke-linejoin="miter" stroke-miterlimit="10"/>
<path d="M380.31 722.98L384.17 729.43L380.31 735.87L376.44 729.43Z" fill="#1f77b4" stroke="#1f77b4" stroke-width="1.45" stroke-linejoin="miter" stroke-miterlimit="10"/>
<path d="M552.51 685.65L556.38 692.09L552.51 698.53L548.65 692.09Z" fill="#1f77b4" stroke="#1f77b4" stroke-width="1.45" stroke-linejoin="miter" stroke-miterlimit="10"/>
<path d="M638.62 628.17L642.48 634.62L638.62 641.06L634.75 634.62Z" fill="#1f77b4" stroke="#1f77b4" stroke-width="1.45" stroke-linejoin="miter" stroke-miterlimit="10"/>
<path d="M724.72 640.85L728.59 647.29L724.72 653.73L720.86 647.29Z" fill="#1f77b4" stroke="#1f77b4" stroke-width="1.45" stroke-linejoin="miter" stroke-miterlimit="10"/>
<path d="M810.82 678.35L814.69 684.79L810.82 691.23L806.96 684.79Z" fill="#1f77b4" stroke="#1f77b4" stroke-width="1.45" stroke-linejoin="miter" stroke-miterlimit="10"/>
<path d="M896.93 698.1L900.79 704.54L896.93 710.98L893.06 704.54Z" fill="#1f77b4" stroke="#1f77b4" stroke-width="1.45" stroke-linejoin="miter" stroke-miterlimit="10"/>
<path d="M983.03 636.7L986.89 643.14L983.03 649.59L979.17 643.14Z" fill="#1f77b4" stroke="#1f77b4" stroke-width="1.45" stroke-linejoin="miter" stroke-miterlimit="10"/>
</g>
<g clip-path="url(#clipc)"><path d="M122.86 934.01 130.61 763.11 165.05 644.31 208.1 689.6 294.21 752.49 380.31 701.05 552.51 688.94 638.62 759.79 724.72 678.98 810.82 630.04 896.93 729.26 983.03 762.28" stroke="#ff7f0e" stroke-width="2.34" fill="none" stroke-linejoin="round" stroke-linecap="butt"/>
<path d="M122.86 927.57L126.73 934.01L122.86 940.45L119 934.01Z" fill="#ff7f0e" stroke="#ff7f0e" stroke-width="1.45" stroke-linejoin="miter" stroke-miterlimit="10"/>
<path d="M130.61 756.67L134.47 763.11L130.61 769.55L126.75 763.11Z" fill="#ff7f0e" stroke="#ff7f0e" stroke-width="1.45" stroke-linejoin="miter" stroke-miterlimit="10"/>
<path d="M165.05 637.86L168.92 644.31L165.05 650.75L161.19 644.31Z" fill="#ff7f0e" stroke="#ff7f0e" stroke-width="1.45" stroke-linejoin="miter" stroke-miterlimit="10"/>
<path d="M208.1 683.16L211.97 689.6L208.1 696.04L204.24 689.6Z" fill="#ff7f0e" stroke="#ff7f0e" stroke-width="1.45" stroke-linejoin="miter" stroke-miterlimit="10"/>
<path d="M294.21 746.05L298.07 752.49L294.21 758.93L290.34 752.49Z" fill="#ff7f0e" stroke="#ff7f0e" stroke-width="1.45" stroke-linejoin="miter" stroke-miterlimit="10"/>
<path d="M380.31 694.61L384.17 701.05L380.31 707.49L376.44 701.05Z" fill="#ff7f0e" stroke="#ff7f0e" stroke-width="1.45" stroke-linejoin="miter" stroke-miterlimit="10"/>
<path d="M552.51 682.5L556.38 688.94L552.51 695.38L548.65 688.94Z" fill="#ff7f0e" stroke="#ff7f0e" stroke-width="1.45" stroke-linejoin="miter" stroke-miterlimit="10"/>
<path d="M638.62 753.35L642.48 759.79L638.62 766.23L634.75 759.79Z" fill="#ff7f0e" stroke="#ff7f0e" stroke-width="1.45" stroke-linejoin="miter" stroke-miterlimit="10"/>
<path d="M724.72 672.54L728.59 678.98L724.72 685.42L720.86 678.98Z" fill="#ff7f0e" stroke="#ff7f0e" stroke-width="1.45" stroke-linejoin="miter" stroke-miterlimit="10"/>
<path d="M810.82 623.59L814.69 630.04L810.82 636.48L806.96 630.04Z" fill="#ff7f0e" stroke="#ff7f0e" stroke-width="1.45" stroke-linejoin="miter" stroke-miterlimit="10"/>
<path d="M896.93 722.82L900.79 729.26L896.93 735.7L893.06 729.26Z" fill="#ff7f0e" stroke="#ff7f0e" stroke-width="1.45" stroke-linejoin="miter" stroke-miterlimit="10"/>
<path d="M983.03 755.84L986.89 762.28L983.03 768.72L979.17 762.28Z" fill="#ff7f0e" stroke="#ff7f0e" stroke-width="1.45" stroke-linejoin="miter" stroke-miterlimit="10"/>
</g>
<g clip-path="url(#clipc)"><path d="M122.86 822.67 130.61 741.04 165.05 629.87 208.1 590.55 294.21 592.7 380.31 567.81 552.51 577.44 638.62 559.19 724.72 556.66 810.82 570.47 896.93 555.54 983.03 569.14" stroke="#2ca02c" stroke-width="2.34" fill="none" stroke-linejoin="round" stroke-linecap="butt"/>
<path d="M122.86 816.23L126.73 822.67L122.86 829.12L119 822.67Z" fill="#2ca02c" stroke="#2ca02c" stroke-width="1.45" stroke-linejoin="miter" stroke-miterlimit="10"/>
<path d="M130.61 734.6L134.47 741.04L130.61 747.48L126.75 741.04Z" fill="#2ca02c" stroke="#2ca02c" stroke-width="1.45" stroke-linejoin="miter" stroke-miterlimit="10"/>
<path d="M165.05 623.43L168.92 629.87L165.05 636.31L161.19 629.87Z" fill="#2ca02c" stroke="#2ca02c" stroke-width="1.45" stroke-linejoin="miter" stroke-miterlimit="10"/>
<path d="M208.1 584.1L211.97 590.55L208.1 596.99L204.24 590.55Z" fill="#2ca02c" stroke="#2ca02c" stroke-width="1.45" stroke-linejoin="miter" stroke-miterlimit="10"/>
<path d="M294.21 586.26L298.07 592.7L294.21 599.14L290.34 592.7Z" fill="#2ca02c" stroke="#2ca02c" stroke-width="1.45" stroke-linejoin="miter" stroke-miterlimit="10"/>
<path d="M380.31 561.37L384.17 567.81L380.31 574.26L376.44 567.81Z" fill="#2ca02c" stroke="#2ca02c" stroke-width="1.45" stroke-linejoin="miter" stroke-miterlimit="10"/>
<path d="M552.51 571L556.38 577.44L552.51 583.88L548.65 577.44Z" fill="#2ca02c" stroke="#2ca02c" stroke-width="1.45" stroke-linejoin="miter" stroke-miterlimit="10"/>
<path d="M638.62 552.74L642.48 559.19L638.62 565.63L634.75 559.19Z" fill="#2ca02c" stroke="#2ca02c" stroke-width="1.45" stroke-linejoin="miter" stroke-miterlimit="10"/>
<path d="M724.72 550.22L728.59 556.66L724.72 563.11L720.86 556.66Z" fill="#2ca02c" stroke="#2ca02c" stroke-width="1.45" stroke-linejoin="miter" stroke-miterlimit="10"/>
<path d="M810.82 564.03L814.69 570.47L810.82 576.91L806.96 570.47Z" fill="#2ca02c" stroke="#2ca02c" stroke-width="1.45" stroke-linejoin="miter" stroke-miterlimit="10"/>
<path d="M896.93 549.09L900.79 555.54L896.93 561.98L893.06 555.54Z" fill="#2ca02c" stroke="#2ca02c" stroke-width="1.45" stroke-linejoin="miter" stroke-miterlimit="10"/>
<path d="M983.03 562.7L986.89 569.14L983.03 575.58L979.17 569.14Z" fill="#2ca02c" stroke="#2ca02c" stroke-width="1.45" stroke-linejoin="miter" stroke-miterlimit="10"/>
</g>
<g clip-path="url(#clipc)"><path d="M122.86 916.92 130.61 771.24 165.05 598.34 208.1 583.74 294.21 585.07 380.31 603.82 552.51 588.72 638.62 570.97 724.72 582.42 810.82 573.79 896.93 586.4 983.03 562.5" stroke="#d62728" stroke-width="2.34" fill="none" stroke-linejoin="round" stroke-linecap="butt"/>
<path d="M122.86 910.48L126.73 916.92L122.86 923.36L119 916.92Z" fill="#d62728" stroke="#d62728" stroke-width="1.45" stroke-linejoin="miter" stroke-miterlimit="10"/>
<path d="M130.61 764.8L134.47 771.24L130.61 777.68L126.75 771.24Z" fill="#d62728" stroke="#d62728" stroke-width="1.45" stroke-linejoin="miter" stroke-miterlimit="10"/>
<path d="M165.05 591.9L168.92 598.34L165.05 604.79L161.19 598.34Z" fill="#d62728" stroke="#d62728" stroke-width="1.45" stroke-linejoin="miter" stroke-miterlimit="10"/>
<path d="M208.1 577.3L211.97 583.74L208.1 590.18L204.24 583.74Z" fill="#d62728" stroke="#d62728" stroke-width="1.45" stroke-linejoin="miter" stroke-miterlimit="10"/>
<path d="M294.21 578.63L298.07 585.07L294.21 591.51L290.34 585.07Z" fill="#d62728" stroke="#d62728" stroke-width="1.45" stroke-linejoin="miter" stroke-miterlimit="10"/>
<path d="M380.31 597.38L384.17 603.82L380.31 610.26L376.44 603.82Z" fill="#d62728" stroke="#d62728" stroke-width="1.45" stroke-linejoin="miter" stroke-miterlimit="10"/>
<path d="M552.51 582.28L556.38 588.72L552.51 595.16L548.65 588.72Z" fill="#d62728" stroke="#d62728" stroke-width="1.45" stroke-linejoin="miter" stroke-miterlimit="10"/>
<path d="M638.62 564.53L642.48 570.97L638.62 577.41L634.75 570.97Z" fill="#d62728" stroke="#d62728" stroke-width="1.45" stroke-linejoin="miter" stroke-miterlimit="10"/>
<path d="M724.72 575.97L728.59 582.42L724.72 588.86L720.86 582.42Z" fill="#d62728" stroke="#d62728" stroke-width="1.45" stroke-linejoin="miter" stroke-miterlimit="10"/>
<path d="M810.82 567.35L814.69 573.79L810.82 580.23L806.96 573.79Z" fill="#d62728" stroke="#d62728" stroke-width="1.45" stroke-linejoin="miter" stroke-miterlimit="10"/>
<path d="M896.93 579.96L900.79 586.4L896.93 592.84L893.06 586.4Z" fill="#d62728" stroke="#d62728" stroke-width="1.45" stroke-linejoin="miter" stroke-miterlimit="10"/>
<path d="M983.03 556.06L986.89 562.5L983.03 568.95L979.17 562.5Z" fill="#d62728" stroke="#d62728" stroke-width="1.45" stroke-linejoin="miter" stroke-miterlimit="10"/>
</g>
<path d="M80 589.05H1025.95" stroke="#1f77b4" stroke-width="2.34" stroke-dasharray="8.02 3.47" fill="none"/>
<rect x="452.1" y="788.7" width="563.9" height="154.4" rx="4.3" ry="4.3" fill="#ffffff" fill-opacity="0.74" stroke="#cccccc" stroke-opacity="0.8" stroke-width="1.45"/>
<path d="M460.2 804.8H500.68" stroke="#1f77b4" stroke-width="2.34" stroke-linecap="square"/>
<path d="M480.44 798.36L484.3 804.8L480.44 811.24L476.57 804.8Z" fill="#1f77b4" stroke="#1f77b4" stroke-width="1.45" stroke-linejoin="miter" stroke-miterlimit="10"/>
<text transform="translate(516.87 812) scale(1 1.03)">single layer - trainable backbone - unnormalized</text>
<path d="M460.2 834.43H500.68" stroke="#ff7f0e" stroke-width="2.34" stroke-linecap="square"/>
<path d="M480.44 827.99L484.3 834.43L480.44 840.87L476.57 834.43Z" fill="#ff7f0e" stroke="#ff7f0e" stroke-width="1.45" stroke-linejoin="miter" stroke-miterlimit="10"/>
<text transform="translate(516.87 841.63) scale(1 1.03)">two layer - trainable backbone - unnormalized</text>
<path d="M460.2 864.06H500.68" stroke="#2ca02c" stroke-width="2.34" stroke-linecap="square"/>
<path d="M480.44 857.62L484.3 864.06L480.44 870.5L476.57 864.06Z" fill="#2ca02c" stroke="#2ca02c" stroke-width="1.45" stroke-linejoin="miter" stroke-miterlimit="10"/>
<text transform="translate(516.87 871.26) scale(1 1.03)">single layer - trainable backbone - normalized</text>
<path d="M460.2 893.69H500.68" stroke="#d62728" stroke-width="2.34" stroke-linecap="square"/>
<path d="M480.44 887.25L484.3 893.69L480.44 900.13L476.57 893.69Z" fill="#d62728" stroke="#d62728" stroke-width="1.45" stroke-linejoin="miter" stroke-miterlimit="10"/>
<text transform="translate(516.87 900.89) scale(1 1.03)">two layer - trainable backbone - normalized</text>
<path d="M460.2 923.32H500.68" stroke="#1f77b4" stroke-width="2.34" stroke-dasharray="8.02 3.47"/>
<text transform="translate(516.87 930.52) scale(1 1.03)">supervised</text>
<rect x="80" y="536.67" width="945.95" height="416.13" fill="none" stroke="#000" stroke-width="1.55" stroke-linejoin="miter"/>
<path d="M122 952.8V957.86 M294.21 952.8V957.86 M466.41 952.8V957.86 M638.62 952.8V957.86 M810.82 952.8V957.86 M983.03 952.8V957.86 M80 904.31H74.94 M80 837.94H74.94 M80 771.57H74.94 M80 705.2H74.94 M80 638.83H74.94 M80 572.46H74.94" stroke="#000" stroke-width="1.55"/>
<text class="t" x="122" y="978.7" text-anchor="middle">0</text>
<text class="t" x="294.21" y="978.7" text-anchor="middle">20</text>
<text class="t" x="466.41" y="978.7" text-anchor="middle">40</text>
<text class="t" x="638.62" y="978.7" text-anchor="middle">60</text>
<text class="t" x="810.82" y="978.7" text-anchor="middle">80</text>
<text class="t" x="983.03" y="978.7" text-anchor="middle">100</text>
<text class="t" x="69.88" y="911.96" text-anchor="end">68</text>
<text class="t" x="69.88" y="845.59" text-anchor="end">70</text>
<text class="t" x="69.88" y="779.22" text-anchor="end">72</text>
<text class="t" x="69.88" y="712.85" text-anchor="end">74</text>
<text class="t" x="69.88" y="646.48" text-anchor="end">76</text>
<text class="t" x="69.88" y="580.11" text-anchor="end">78</text>
<text transform="translate(552.98 1003.8) scale(1 1.03)" text-anchor="middle">Training Label Ratio</text>
<text transform="translate(34 744.73) rotate(-90) scale(1 1.03)" text-anchor="middle">Top-1 Accuracy</text>
<text transform="translate(552.98 527.99) scale(1 1.03)" text-anchor="middle">(c) NuCLS with Stain Normalization</text>
</g>
</svg>
</body></html>
